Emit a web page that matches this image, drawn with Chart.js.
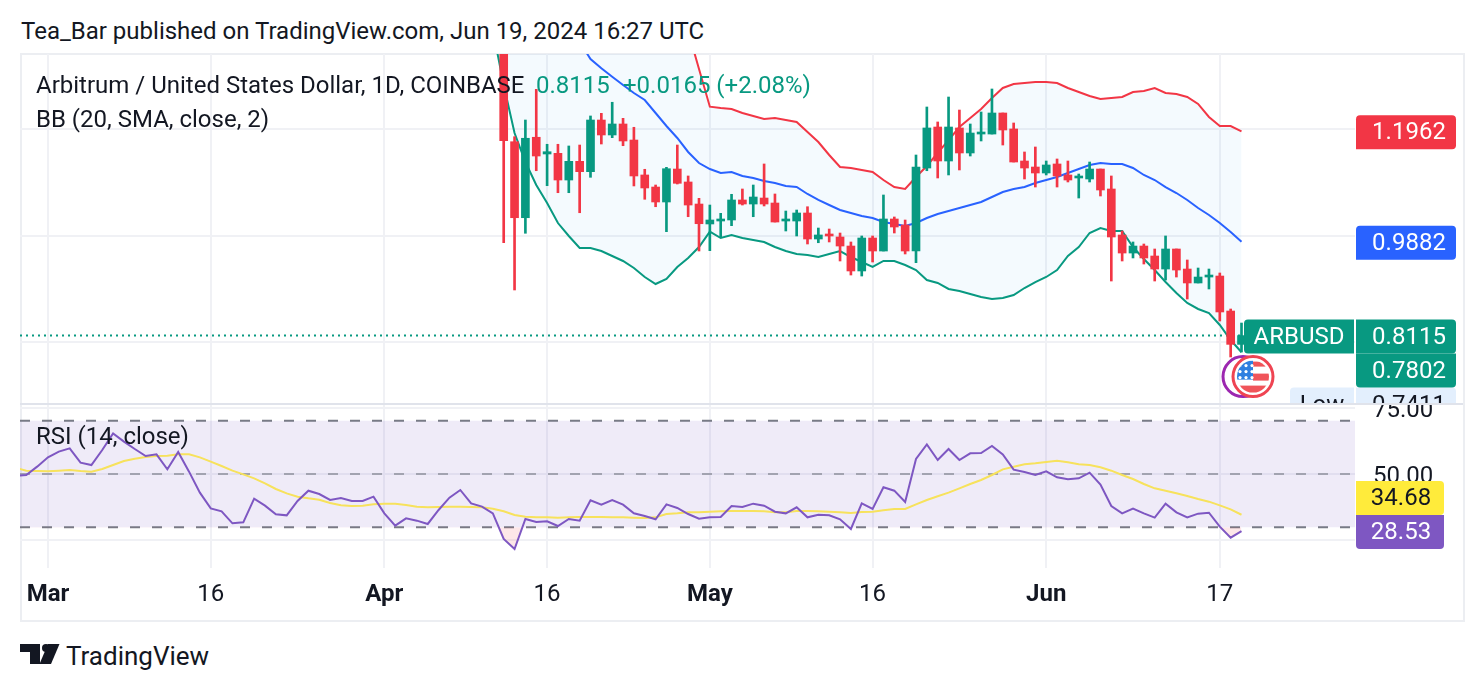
<!DOCTYPE html>
<html>
<head>
<meta charset="utf-8">
<title>ARBUSD daily chart</title>
<script src="https://cdn.jsdelivr.net/npm/chart.js@4/dist/chart.umd.min.js"></script>
<style>
  html, body { margin: 0; padding: 0; background: #fff; width: 1484px; height: 690px; overflow: hidden; }
  body { position: relative; font-family: Roboto, sans-serif; color: #131722; }
  #frame { position: absolute; left: 20px; top: 53px; width: 1441px; height: 565px; border: 2px solid #eceef2; }
  #split { position: absolute; left: 20px; top: 403px; width: 1443px; height: 2px; background: #e0e3eb; }
  canvas { position: absolute; display: block; }
  .txt { position: absolute; font-size: 24px; line-height: 28px; white-space: nowrap; }
  .up { color: #089981; }
  #logo { position: absolute; left: 20px; top: 644px; }
</style>
</head>
<body>
<div id="frame"></div>
<canvas id="priceChart" width="1443" height="350" style="left:20px;top:54px"></canvas>
<canvas id="rsiChart" width="1443" height="216" style="left:20px;top:404px"></canvas>
<div id="split"></div>
<div class="txt" style="left:21px;top:17px">Tea_Bar published on TradingView.com, Jun 19, 2024 16:27 UTC</div>
<div class="txt" style="left:36px;top:71px">Arbitrum / United States Dollar, 1D, COINBASE</div>
<div class="txt up" style="left:536px;top:71px">0.8115</div>
<div class="txt up" style="left:623px;top:71px">+0.0165 (+2.08%)</div>
<div class="txt" style="left:36px;top:105px">BB (20, SMA, close, 2)</div>
<div class="txt" style="left:36px;top:422px">RSI (14, close)</div>
<svg id="logo" width="40" height="20" viewBox="0 0 40 20"><path fill="#131722" d="M0 0H20V20H10V8H0Z"/><circle cx="26" cy="4" r="4" fill="#131722"/><path fill="#131722" d="M28 0H39.5L31 20H19.5Z"/></svg>
<div class="txt" style="left:66px;top:642px;font-size:26px">TradingView</div>

<script>
// Candles: first bar is day 42 counted from 1 March 2024.
const candleFirstDay = 42;
const opens = [1.46,1.1766,1.0335,1.1850,1.1535,1.1548,1.1045,1.1397,1.1202,1.2175,1.1893,1.2100,1.1798,1.1140,1.0913,1.0631,1.1252,1.1008,1.0593,1.0217,1.0273,1.0292,1.0669,1.0593,1.0706,1.0612,1.0273,1.0273,1.0424,0.9934,1.0028,0.9972,0.9802,0.9332,0.9953,0.9708,1.0311,1.0198,0.9708,1.1271,1.2043,1.1403,1.2025,1.1554,1.1911,1.1911,1.2307,1.2006,1.1403,1.1290,1.1177,1.1347,1.1140,1.1083,1.1064,1.1252,1.0876,1.0010,0.9670,0.9802,0.9614,0.9369,0.9746,0.9369,0.9106,0.9218,0.9237,0.8578,0.7950];
const highs = [1.52,1.1861,1.2175,1.2753,1.1718,1.1718,1.1686,1.1704,1.2251,1.2301,1.2509,1.2207,1.2038,1.1247,1.0951,1.1284,1.1704,1.1121,1.0700,1.0574,1.0418,1.0776,1.0876,1.0951,1.1347,1.0782,1.0461,1.0480,1.0542,1.0141,1.0122,1.0047,0.9878,0.9991,0.9991,1.0763,1.0349,1.0292,1.1516,1.2420,1.2138,1.2608,1.2363,1.2100,1.2326,1.2759,1.2307,1.2119,1.1573,1.1667,1.1403,1.1441,1.1403,1.1158,1.1384,1.1252,1.1121,1.0085,0.9878,0.9840,0.9746,0.9991,0.9746,0.9539,0.9388,0.9369,0.9294,0.8616,0.8352];
const lows = [0.9865,0.8974,1.0042,1.1220,1.0938,1.0806,1.0806,1.0429,1.1096,1.1723,1.1842,1.1691,1.0933,1.0682,1.0542,1.0072,1.0970,1.0354,0.9708,0.9714,0.9966,1.0185,1.0574,1.0354,1.0556,1.0254,1.0085,0.9991,0.9840,0.9864,0.9878,0.9520,0.9256,0.9237,0.9501,0.9708,1.0047,0.9652,0.9488,1.1220,1.1083,1.1140,1.1234,1.1497,1.1780,1.1911,1.1704,1.1384,1.1064,1.0913,1.1140,1.0913,1.1008,1.0706,1.1008,1.0744,0.9143,0.9520,0.9577,0.9463,0.9143,0.9162,0.9218,0.8804,0.9106,0.8993,0.8390,0.7712,0.7806];
const closes = [1.1785,1.0335,1.1831,1.1497,1.1578,1.1045,1.1397,1.1202,1.2175,1.1893,1.2100,1.1780,1.1121,1.0895,1.0631,1.1258,1.0983,1.0574,1.0222,1.0292,1.0311,1.0669,1.0593,1.0725,1.0593,1.0254,1.0311,1.0424,0.9934,1.0010,0.9991,0.9802,0.9332,0.9953,0.9708,1.0311,1.0160,0.9708,1.1290,1.2025,1.1403,1.2043,1.1554,1.1930,1.1949,1.2307,1.1987,1.1384,1.1271,1.1177,1.1328,1.1121,1.1045,1.1121,1.1252,1.0857,0.9972,0.9670,0.9802,0.9577,0.9369,0.9746,0.9350,0.9106,0.9218,0.9256,0.8560,0.7950,0.8115];

// Bollinger bands: first point is day 41.
const bandFirstDay = 41;
const bbUpper = [1.7260,1.7920,1.8446,1.8616,1.8673,1.8634,1.8447,1.8125,1.7523,1.6883,1.6590,1.6370,1.6148,1.5980,1.5885,1.5527,1.4943,1.4265,1.3851,1.3136,1.2426,1.2401,1.2382,1.2307,1.2251,1.2194,1.2213,1.2175,1.2138,1.1949,1.1761,1.1516,1.1290,1.1271,1.1234,1.1196,1.1045,1.0913,1.0876,1.1102,1.1309,1.1554,1.1798,1.2043,1.2213,1.2382,1.2590,1.2778,1.2853,1.2872,1.2891,1.2891,1.2872,1.2778,1.2703,1.2627,1.2571,1.2590,1.2608,1.2703,1.2721,1.2778,1.2684,1.2665,1.2608,1.2477,1.2232,1.2062,1.2062,1.1962];
const bbBasis = [1.5565,1.5377,1.5188,1.5000,1.4812,1.4623,1.4341,1.4058,1.3644,1.3324,1.3149,1.2991,1.2834,1.2684,1.2552,1.2307,1.2062,1.1836,1.1573,1.1365,1.1252,1.1177,1.1196,1.1121,1.1083,1.1026,1.0989,1.0932,1.0913,1.0782,1.0669,1.0574,1.0480,1.0424,1.0367,1.0330,1.0254,1.0217,1.0179,1.0235,1.0330,1.0405,1.0461,1.0518,1.0574,1.0631,1.0725,1.0819,1.0876,1.0913,1.0989,1.1045,1.1102,1.1177,1.1252,1.1328,1.1365,1.1347,1.1347,1.1271,1.1140,1.1045,1.0913,1.0800,1.0669,1.0518,1.0386,1.0235,1.0066,0.9882];
const bbLower = [1.3870,1.2834,1.1930,1.1384,1.0951,1.0612,1.0235,0.9991,0.9765,0.9765,0.9708,0.9614,0.9520,0.9388,0.9219,0.9087,0.9181,0.9407,0.9576,0.9783,1.0072,0.9953,1.0010,0.9953,0.9915,0.9878,0.9783,0.9708,0.9652,0.9633,0.9595,0.9652,0.9708,0.9595,0.9501,0.9407,0.9520,0.9520,0.9445,0.9350,0.9162,0.9106,0.8993,0.8955,0.8899,0.8842,0.8804,0.8823,0.8879,0.9011,0.9124,0.9219,0.9350,0.9614,0.9783,1.0047,1.0141,1.0085,1.0085,0.9783,0.9558,0.9350,0.9124,0.8917,0.8729,0.8616,0.8541,0.8315,0.8032,0.7802];

// RSI and its moving average: first point is day -3.
const rsiFirstDay = -3;
const rsiValues = [49.37,49.63,52.76,56.27,58.40,59.65,54.26,53.38,59.02,65.29,62.16,59.40,56.77,57.39,51.76,58.27,50.88,42.98,37.09,35.97,31.46,31.83,40.73,38.10,34.84,34.46,39.85,43.73,42.48,40.23,40.98,39.85,39.85,41.48,35.21,30.58,33.33,32.46,31.21,36.47,41.10,43.99,38.97,37.72,35.21,25.57,21.81,33.08,31.96,32.21,30.45,33.08,32.46,40.10,38.47,40.23,38.47,35.21,34.21,32.96,38.60,37.22,34.96,33.21,33.71,33.84,37.97,37.60,38.85,38.10,35.84,35.21,37.47,33.71,34.71,34.46,32.96,29.33,38.97,36.84,44.99,43.73,39.47,55.64,61.15,55.26,59.40,55.26,57.77,57.90,60.53,57.39,51.63,50.75,49.63,51.00,48.75,48.00,48.37,50.50,45.99,37.97,35.21,36.97,35.21,33.59,38.85,35.59,33.71,35.09,35.46,30.20,26.07,28.53];
const rsiAverage = [52.38,51.25,51.13,51.00,51.25,51.50,51.13,50.88,51.88,53.38,54.89,55.77,56.39,56.77,56.89,57.39,57.39,56.27,54.64,53.01,51.25,49.88,48.37,46.49,44.36,42.73,41.48,40.85,40.35,39.10,38.22,37.97,38.10,38.60,38.85,38.85,38.35,37.72,37.47,37.60,37.72,37.72,37.60,37.47,36.97,35.97,34.59,33.96,33.71,33.71,33.59,33.71,33.84,33.84,33.84,33.71,33.71,33.59,33.46,33.71,34.96,35.21,35.59,35.59,35.84,35.97,36.09,36.09,36.09,35.97,35.59,35.59,36.09,36.09,35.97,35.84,35.59,35.34,35.72,35.84,36.34,36.84,36.84,38.60,40.23,41.61,42.98,44.61,46.24,47.75,49.63,51.76,52.76,53.64,54.01,54.51,55.01,54.39,53.64,53.38,52.51,51.25,49.63,48.12,46.24,44.61,43.73,42.73,41.73,40.60,39.60,38.22,36.72,34.68];

// Axis ticks and shown labels.
const tickDays = [0, 15, 31, 46, 61, 76, 92, 108];
const tickLabels = ['Mar', '16', 'Apr', '16', 'May', '16', 'Jun', '17'];
const boldLabels = ['Mar', 'Apr', 'May', 'Jun'];
const priceGrid = [1.2, 1.0, 0.8];
const rsiTicks = [25, 50, 75];
const rsiLevels = { upper: 70, middle: 50, lower: 30 };

// Visible ranges.
const dayRange = [-2.58, 120.46];
const priceRange = [0.6827, 1.3418];
const rsiRange = [14.66, 76.32];

// Last-value figures.
const lastPrice = 0.8115;
const lowPrice = 0.7411;

const UP = '#089981', DOWN = '#f23645', GRID = '#f0f1f5', INK = '#131722';
const FONT = '24px Roboto, sans-serif';

const seq = (first, values) => values.map((y, i) => ({ x: first + i, y }));
const candleColor = closes.map((c, i) => (c >= opens[i] ? UP : DOWN));

function tag(ctx, x, yCenter, w, fill, color, text, radii, textX) {
  const h = 34;
  const mid = yCenter + 1;
  ctx.fillStyle = fill;
  ctx.beginPath();
  ctx.roundRect(x, mid - h / 2, w, h, radii);
  ctx.fill();
  ctx.fillStyle = color;
  ctx.font = FONT;
  ctx.textAlign = 'center';
  ctx.textBaseline = 'middle';
  ctx.fillText(text, textX, mid + 1);
}

function drawFlagBadge(ctx, cx, cy) {
  ctx.save();
  ctx.lineWidth = 3;
  ctx.strokeStyle = '#9c27b0';
  ctx.beginPath(); ctx.arc(cx - 10, cy, 20, 0, Math.PI * 2); ctx.stroke();
  ctx.fillStyle = '#fff';
  ctx.beginPath(); ctx.arc(cx, cy, 20, 0, Math.PI * 2); ctx.fill();
  ctx.strokeStyle = '#ef4452';
  ctx.beginPath(); ctx.arc(cx, cy, 20, 0, Math.PI * 2); ctx.stroke();
  ctx.beginPath(); ctx.arc(cx, cy, 16, 0, Math.PI * 2); ctx.clip();
  ctx.fillStyle = '#f0545a';
  ctx.fillRect(cx, cy - 15, 20, 5);
  ctx.fillRect(cx, cy - 3, 20, 7);
  ctx.fillRect(cx - 20, cy + 9, 40, 9);
  ctx.fillStyle = '#2f7fe0';
  ctx.fillRect(cx - 20, cy - 16, 20, 19);
  ctx.fillStyle = '#fff';
  for (let r = 0; r < 3; r++) {
    for (let c = 0; c < 3; c++) {
      ctx.beginPath();
      ctx.arc(cx - 13 + c * 6, cy - 11 + r * 6, 1.6, 0, Math.PI * 2);
      ctx.fill();
    }
  }
  ctx.restore();
}

// Price-pane tags: Y comes from the price scale; collisions stack downward.
const priceTags = {
  id: 'priceTags',
  afterDraw(chart) {
    const { ctx, scales } = chart;
    const OX = 1336, OW = 100, OT = OX + 53;
    const y = v => scales.y.getPixelForValue(v);
    ctx.save();
    tag(ctx, OX, y(bbUpper[bbUpper.length - 1]), OW, DOWN, '#fff', bbUpper[bbUpper.length - 1].toFixed(4), [4, 4, 4, 0], OT);
    tag(ctx, OX, y(bbBasis[bbBasis.length - 1]), OW, '#2962ff', '#fff', bbBasis[bbBasis.length - 1].toFixed(4), [4, 4, 4, 0], OT);
    const lastY = y(lastPrice);
    tag(ctx, 1270, lastY + 68, 64, '#e3effd', INK, 'Low', [4, 0, 0, 0], 1302);
    tag(ctx, OX, lastY + 68, OW, '#e3effd', INK, lowPrice.toFixed(4), [0, 4, 0, 0], OT);
    tag(ctx, OX, lastY + 34, OW, UP, '#fff', bbLower[bbLower.length - 1].toFixed(4), [0, 0, 4, 4], OT);
    tag(ctx, 1224, lastY, 110, UP, '#fff', 'ARBUSD', [4, 0, 0, 4], 1279);
    tag(ctx, OX, lastY, OW, UP, '#fff', lastPrice.toFixed(4), [0, 4, 4, 0], OT);
    drawFlagBadge(ctx, 1233, lastY + 41);
    ctx.restore();
  }
};

const rsiTags = {
  id: 'rsiTags',
  afterDraw(chart) {
    const { ctx, scales } = chart;
    const rsiY = scales.y.getPixelForValue(rsiValues[rsiValues.length - 1]);
    ctx.save();
    tag(ctx, 1336, rsiY - 34, 88, '#ffeb3b', INK, rsiAverage[rsiAverage.length - 1].toFixed(2), [0, 4, 4, 0], 1381);
    tag(ctx, 1336, rsiY, 88, '#7e57c2', '#fff', rsiValues[rsiValues.length - 1].toFixed(2), [0, 0, 4, 4], 1381);
    ctx.restore();
  }
};

const lineStyle = (color, extra) => Object.assign({
  type: 'line', borderColor: color, borderWidth: 2, pointRadius: 0, tension: 0, fill: false
}, extra);

// Tick labels may overhang the plot without shrinking it.
const noOverhang = s => {
  s.paddingLeft = s.paddingRight = s.paddingTop = s.paddingBottom = 0;
};

const xAxis = (height, showLabels) => ({
  type: 'linear',
  min: dayRange[0],
  max: dayRange[1],
  offset: false,
  afterBuildTicks: s => { s.ticks = tickDays.map(v => ({ value: v })); },
  afterFit: s => { s.height = height; noOverhang(s); },
  border: { display: false },
  grid: { color: GRID, lineWidth: 2, drawTicks: false, offset: false },
  ticks: {
    display: showLabels,
    autoSkip: false,
    maxRotation: 0,
    padding: 13,
    color: INK,
    callback: v => tickLabels[tickDays.indexOf(v)],
    font: c => ({
      family: 'Roboto, sans-serif',
      size: 24,
      weight: c.tick && boldLabels.includes(tickLabels[tickDays.indexOf(c.tick.value)]) ? 'bold' : 'normal'
    })
  }
});

const yAxis = (range, showLabels, values) => ({
  position: 'right',
  min: range[0],
  max: range[1],
  afterBuildTicks: s => { s.ticks = values.map(v => ({ value: v })); },
  afterFit: s => { s.width = 108; noOverhang(s); },
  border: { display: false },
  grid: { color: GRID, lineWidth: 2, drawTicks: false },
  ticks: {
    display: showLabels,
    padding: 18,
    labelOffset: 3,
    color: INK,
    font: { family: 'Roboto, sans-serif', size: 24 },
    callback: v => v.toFixed(2)
  }
});

const common = {
  responsive: false,
  animation: false,
  devicePixelRatio: 1,
  layout: { padding: 0 },
  events: [],
  plugins: { legend: { display: false }, tooltip: { enabled: false } }
};

new Chart(document.getElementById('priceChart'), {
  type: 'bar',
  plugins: [priceTags],
  data: {
    datasets: [
      lineStyle(UP, { label: 'BB lower', data: seq(bandFirstDay, bbLower), order: 5 }),
      lineStyle(DOWN, {
        label: 'BB upper', data: seq(bandFirstDay, bbUpper), order: 5,
        fill: { target: 0 }, backgroundColor: 'rgba(33,150,243,0.05)'
      }),
      lineStyle('#2962ff', { label: 'BB basis', data: seq(bandFirstDay, bbBasis), order: 4 }),
      lineStyle(UP, {
        label: 'Last price', order: 3, borderDash: [2, 4],
        data: [{ x: dayRange[0], y: lastPrice }, { x: candleFirstDay + closes.length - 1, y: lastPrice }]
      }),
      {
        label: 'Wick', grouped: false, order: 2, barThickness: 2, borderWidth: 0,
        backgroundColor: candleColor,
        data: highs.map((h, i) => ({ x: candleFirstDay + i, y: [lows[i], h] }))
      },
      {
        label: 'Body', grouped: false, order: 1, barThickness: 8, borderWidth: 0, minBarLength: 2,
        backgroundColor: candleColor,
        data: opens.map((o, i) => ({ x: candleFirstDay + i, y: [o, closes[i]] }))
      }
    ]
  },
  options: Object.assign({}, common, {
    scales: { x: xAxis(0, false), y: yAxis(priceRange, false, priceGrid) }
  })
});

new Chart(document.getElementById('rsiChart'), {
  type: 'line',
  plugins: [rsiTags],
  data: {
    datasets: [
      lineStyle('#787b86', {
        label: 'Lower level', order: 6, borderDash: [10, 12],
        data: [{ x: dayRange[0], y: rsiLevels.lower }, { x: dayRange[1], y: rsiLevels.lower }]
      }),
      lineStyle('#787b86', {
        label: 'Upper level', order: 6, borderDash: [10, 12],
        data: [{ x: dayRange[0], y: rsiLevels.upper }, { x: dayRange[1], y: rsiLevels.upper }],
        fill: { target: 0 }, backgroundColor: 'rgba(126,87,194,0.12)'
      }),
      lineStyle('rgba(120,123,134,0.6)', {
        label: 'Middle level', order: 5, borderDash: [10, 12],
        data: [{ x: dayRange[0], y: rsiLevels.middle }, { x: dayRange[1], y: rsiLevels.middle }]
      }),
      lineStyle('#f7e25c', { label: 'RSI average', order: 2, data: seq(rsiFirstDay, rsiAverage) }),
      lineStyle('#7e57c2', {
        label: 'RSI', order: 1, data: seq(rsiFirstDay, rsiValues),
        fill: { target: { value: rsiLevels.lower }, above: 'rgba(0,0,0,0)', below: 'rgba(242,54,69,0.12)' }
      })
    ]
  },
  options: Object.assign({}, common, {
    scales: { x: xAxis(52, true), y: yAxis(rsiRange, true, rsiTicks) }
  })
});
</script>
</body>
</html>
